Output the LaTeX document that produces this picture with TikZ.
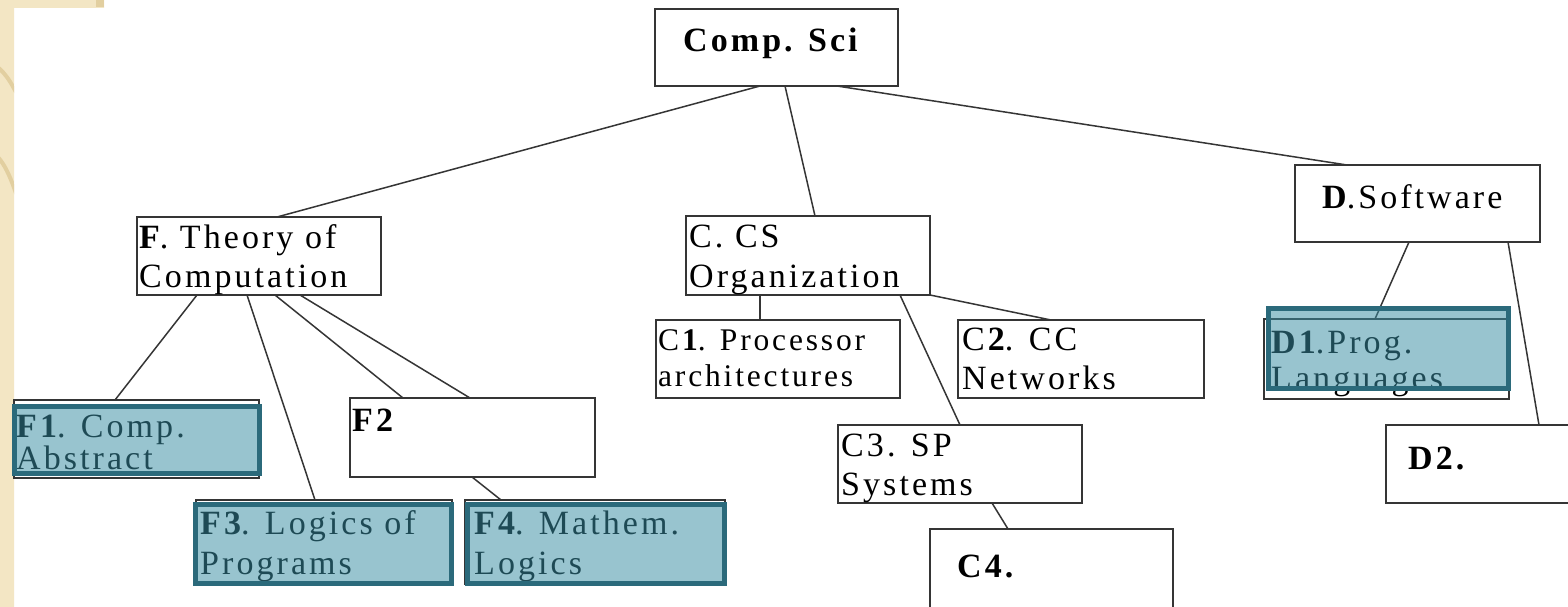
\documentclass[tikz,border=0pt]{standalone}
\usepackage{fontspec}
\setmainfont{Liberation Serif}[LetterSpace=9]
\usetikzlibrary{calc}
\definecolor{paper}{HTML}{F3E6C4}
\definecolor{paperline}{HTML}{E2CFA0}
\definecolor{boxline}{HTML}{353535}
\definecolor{hledge}{HTML}{2B6A7B}
\definecolor{hlfill}{HTML}{3A8EA3}
\begin{document}
\begin{tikzpicture}[x=1pt,y=-1pt,
  box/.style={draw=boxline,line width=1.6pt,fill=white,inner sep=0pt,outer sep=0pt,
              anchor=north west,minimum width=#1},
  box/.default=244pt,
  hl/.style={draw=hledge,line width=4.6pt,fill=hlfill,fill opacity=0.52,
             inner sep=0pt,outer sep=0pt,anchor=north west},
  txt/.style={inner sep=0pt,anchor=base west,font=\fontsize{34}{39}\selectfont},
  stxt/.style={inner sep=0pt,anchor=base west,font=\fontsize{31.5}{35}\selectfont},
  link/.style={draw=boxline,line width=1.5pt}]
\useasboundingbox (0,0) rectangle (1568,607);
\clip (0,0) rectangle (1568,607);

% page background with the textured margin
\fill[white] (0,0) rectangle (1568,607);
\fill[paper] (0,0) -- (104,0) -- (104,8) -- (14,8) -- (14,607) -- (0,607) -- cycle;
\begin{scope}
  \clip (0,0) -- (104,0) -- (104,8) -- (14,8) -- (14,607) -- (0,607) -- cycle;
  \draw[paperline,line width=4pt] (-10,62) .. controls (4,70) and (10,80) .. (20,100);
  \draw[paperline,line width=4pt] (-10,150) .. controls (4,160) and (10,175) .. (20,205);
  \fill[paperline] (96,0) rectangle (104,7);
\end{scope}

% boxes
\node[box=243pt,minimum height=77pt] (comp) at (655,9) {};
\node[box,minimum height=78pt] (theory) at (137,217) {};
\node[box,minimum height=79pt] (org) at (686,216) {};
\node[box=245pt,minimum height=77pt] (soft) at (1295,165) {};
\node[box,minimum height=78pt] (proc) at (656,320) {};
\node[box=246pt,minimum height=78pt] (net) at (958,320) {};
\node[box,minimum height=78pt] (sys) at (838,425) {};
\node[box=243pt,minimum height=100pt] (cfour) at (930,529) {};
\node[box=245pt,minimum height=80pt] (prog) at (1264,319) {};
\node[box=250pt,minimum height=78pt] (dtwo) at (1386,425) {};
\node[box=245pt,minimum height=78pt] (abst) at (14,400) {};
\node[box=245pt,minimum height=79pt] (ftwo) at (350,398) {};
\node[box=256pt,minimum height=84pt] (logp) at (196,500) {};
\node[box=260pt,minimum height=84pt] (math) at (465,500) {};

% connectors
\draw[link] ([xshift=105pt]comp.south west) -- ([xshift=140pt]theory.north west);
\draw[link] ([xshift=130pt]comp.south west) -- ([xshift=129pt]org.north west);
\draw[link] ([xshift=182pt]comp.south west) -- ([xshift=52pt]soft.north west);
\draw[link] ([xshift=60pt]theory.south west) -- ([xshift=101pt]abst.north west);
\draw[link] ([xshift=110pt]theory.south west) -- ([xshift=119pt]logp.north west);
\draw[link] ([xshift=138pt]theory.south west) -- ([xshift=53pt]ftwo.north west);
\draw[link] ([xshift=163pt]theory.south west) -- ([xshift=120pt]ftwo.north west);
\draw[link] ([xshift=122pt]ftwo.south west) -- ([xshift=36pt]math.north west);
\draw[link] ([xshift=74pt]org.south west) -- ([xshift=104pt]proc.north west);
\draw[link] (org.south east) -- ([xshift=93pt]net.north west);
\draw[link] ([xshift=214pt]org.south west) -- ([xshift=122pt]sys.north west);
\draw[link] ([xshift=154pt]sys.south west) -- ([xshift=78pt]cfour.north west);
\draw[link] ([xshift=114pt]soft.south west) -- ([xshift=111pt]prog.north west);
\draw[link] ([xshift=213pt]soft.south west) -- ([xshift=153pt]dtwo.north west);

% labels
\node[txt] (tcomp) at (683,52) {\textbf{Comp. Sci}};
\node[txt] (ttheory1) at (139,248) {\textbf{F}. Theory of};
\node[txt] (ttheory2) at (139,287) {Computation};
\node[txt] (torg1) at (689,247) {C. CS};
\node[txt] (torg2) at (689,287) {Organization};
\node[txt] (tsoft) at (1322,208) {\textbf{D}.Software};
\node[stxt] (tproc1) at (658,350) {C\textbf{1}. Processor};
\node[stxt] (tproc2) at (658,386) {architectures};
\node[txt] (tnet1) at (962,350) {C\textbf{2}. CC};
\node[txt] (tnet2) at (962,389) {Networks};
\node[txt] (tsys1) at (841,456) {C3. SP};
\node[txt] (tsys2) at (841,495) {Systems};
\node[txt] (tcfour) at (957,577) {\textbf{C4.}};
\node[txt] (tdtwo) at (1408,469) {\textbf{D2.}};
\node[txt] (tftwo) at (352,431) {\textbf{F2}};
\node[txt] (tabst1) at (16,437) {\textbf{F1}. Comp.};
\node[txt] (tabst2) at (16,469) {Abstract};
\node[txt] (tlogp1) at (200,534) {\textbf{F3}. Logics of};
\node[txt] (tlogp2) at (200,574) {Programs};
\node[txt] (tmath1) at (474,534) {\textbf{F4}. Mathem.};
\node[txt] (tmath2) at (474,574) {Logics};
\node[txt] (tprog1) at (1271,353) {\textbf{D1}.Prog.};
\node[txt] (tprog2) at (1271,389) {Languages};

% highlighted topics
\node[hl,minimum width=245pt,minimum height=67pt] (habst) at (14.3,406.3) {};
\node[hl,minimum width=256pt,minimum height=79pt] (hlogp) at (195.3,504.3) {};
\node[hl,minimum width=257pt,minimum height=79pt] (hmath) at (467.3,504.3) {};
\node[hl,minimum width=240pt,minimum height=80pt] (hprog) at (1268.3,308.3) {};
\end{tikzpicture}
\end{document}
